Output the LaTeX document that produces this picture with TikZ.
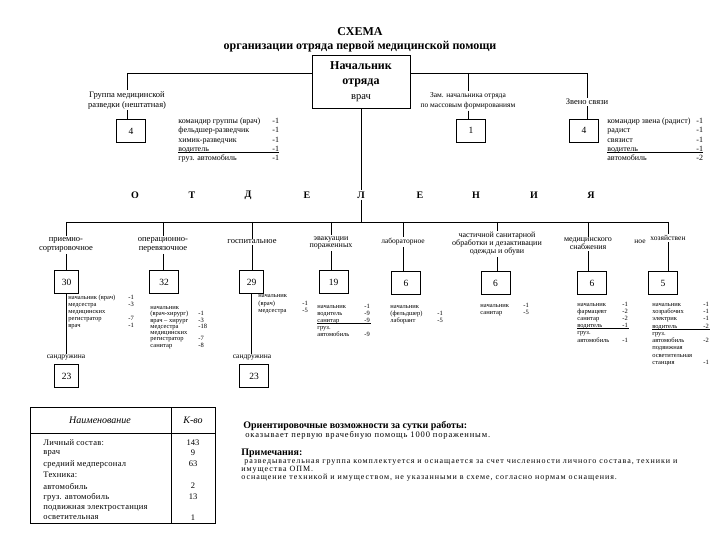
\documentclass[tikz,border=0pt]{standalone}
\usepackage{fontspec}
\setmainfont{Liberation Serif}
\newlength\lw
\newcommand\W[1]{\global\lw=#1\relax}
\newcommand\lrow[2]{\makebox[\lw][l]{#1}#2}
\newcommand\ulrow[2]{\rlap{\rule[-1.6pt]{\dimexpr\lw+7pt\relax}{1.1pt}}\lrow{#1}{#2}}
\newcommand\fs[2]{\fontsize{#1}{#2}\selectfont}
\newcommand\wide[1]{\addfontfeature{LetterSpace=#1}}
\begin{document}
\begin{tikzpicture}[x=1pt,y=-1pt,line width=0.8pt,
  bx/.style={draw, minimum width=29pt, minimum height=23pt, inner sep=0pt, font=\fs{9.5}{10}},
  nbx/.style={bx, minimum width=23.5pt},
  dl/.style={align=center, inner sep=1pt, font=\fs{8.5}{9}},
  tl/.style={align=center, inner sep=1pt, font=\fs{8.5}{10}},
  ls/.style={anchor=north west, align=left, inner sep=0pt, font=\fs{6.5}{7}},
  lsb/.style={anchor=north west, align=left, inner sep=0pt, font=\fs{8}{9.3}},
  lt/.style={font=\fs{10}{10}\bfseries, inner sep=1pt},
  tx/.style={anchor=west, inner sep=0pt, font=\fs{8.5}{9}\wide{3}},
  tv/.style={inner sep=0pt, font=\fs{8.5}{9}}]
\useasboundingbox (0,0) rectangle (720,540);
% title
\node[font=\fs{12}{12}\bfseries] (t1) at (360,32) {СХЕМА};
\node[font=\fs{12}{12}\bfseries] (t2) at (360,47) {организации отряда первой медицинской помощи};
% chief
\node[draw, minimum width=98pt, minimum height=53pt, inner sep=0pt, align=center, font=\fs{12}{15}\bfseries] (boss) at (361,81.5) {Начальник\\отряда\\\fs{10.5}{15}\normalfont врач};
% top bus
\coordinate (tl) at (127,73);
\coordinate (tr) at (587,73);
\node[tl] (glbl) at (127,100) {Группа медицинской\\разведки (нештатная)};
\node[bx] (gbox) at (131,131) {4};
\node[tl, font=\fs{7.5}{10}] (zlbl) at (468,101) {Зам. начальника отряда\\по массовым формированиям};
\node[bx] (zbox) at (471,130.5) {1};
\node[tl] (svlbl) at (587,102) {Звено связи};
\node[bx] (svbox) at (584,130.5) {4};
\draw (boss.west |- tl) -- (tl) -- (glbl.north);
\draw (glbl.south) -- (glbl.south |- gbox.north);
\draw (boss.east |- tr) -- (tr) -- (svlbl.north);
\draw (zlbl.north |- tr) -- (zlbl.north);
\draw (zlbl.south) -- (zlbl.south |- zbox.north);
\draw (svlbl.south) -- (svlbl.south |- svbox.north);
\node[lsb] (glist) at (178,117.5) {\W{94pt}\lrow{командир группы (врач)}{-1}\\\lrow{фельдшер-разведчик}{-1}\\\lrow{химик-разведчик}{-1}\\\ulrow{водитель}{-1}\\\lrow{груз. автомобиль}{-1}};
\node[lsb] (svlist) at (607,117.5) {\W{89pt}\lrow{командир звена (радист)}{-1}\\\lrow{радист}{-1}\\\lrow{связист}{-1}\\\ulrow{водитель}{-1}\\\lrow{автомобиль}{-2}};
% ОТДЕЛЕНИЯ
\node[lt] (lO) at (135,195) {О};
\node[lt] (lT) at (192,195) {Т};
\node[lt] (lD) at (248,195) {Д};
\node[lt] (lE1) at (307,195) {Е};
\node[lt] (lL) at (361,195) {Л};
\node[lt] (lE2) at (420,195) {Е};
\node[lt] (lN) at (476,195) {Н};
\node[lt] (lI) at (534,195) {И};
\node[lt] (lJa) at (591,195) {Я};
\coordinate (db1) at (66,222);
\coordinate (db8) at (668,222);
\draw (db1) -- (db8);
\draw (boss.south) -- (lL.north);
\draw (lL.south) -- (lL.south |- db1);
% departments
\node[dl] (d1) at (66,245) {приемно-\\сортировочное};
\node[dl] (d2) at (163,245) {операционно-\\перевязочное};
\node[dl] (d3) at (252,242) {госпитальное};
\node[dl, font=\fs{8}{7.5}] (d4) at (331,243) {эвакуации\\пораженных};
\node[dl, font=\fs{7.5}{8}] (d5) at (403,242) {лабораторное};
\node[dl, font=\fs{8}{8}] (d6) at (497,244) {частичной санитарной\\обработки и дезактивации\\одежды и обуви};
\node[dl, font=\fs{8}{8}] (d7) at (588,244) {медицинского\\снабжения};
\node[dl, font=\fs{7.5}{8}] (d8) at (668,238) {хозяйствен};
\node[dl, font=\fs{7.5}{8}] (d8b) at (640,242) {ное};
\node[nbx] (b1) at (66.5,282) {30};
\node[bx] (b2) at (164,282) {32};
\node[nbx] (b3) at (251.5,282) {29};
\node[bx] (b4) at (333.5,282) {19};
\node[bx] (b5) at (406,283) {6};
\node[bx] (b6) at (495.5,283) {6};
\node[bx] (b7) at (592,283) {6};
\node[bx] (b8) at (663,283) {5};
\foreach \i in {1,...,8}{
  \draw (d\i.north |- db1) -- (d\i.north);
  \draw (d\i.south) -- (d\i.south |- b\i.north);
}
% sandruzhiny
\node[dl, font=\fs{7.5}{8}] (s1) at (66,358) {сандружина};
\node[nbx] (c1) at (66.5,376) {23};
\node[dl, font=\fs{7.5}{8}] (s3) at (252,358) {сандружина};
\node[bx] (c3) at (254,376) {23};
\draw (b1.south) -- (b1.south |- s1.north);
\draw (b3.south) -- (b3.south |- s3.north);
% lists
\node[ls] (l1) at (68,295) {\W{60pt}\lrow{начальник (врач)}{-1}\\\lrow{медсестра}{-3}\\медицинских\\\lrow{регистратор}{-7}\\\lrow{врач}{-1}};
\node[ls, font=\fs{6.5}{6.3}] (l2) at (150,306) {\W{48pt}начальник\\\lrow{(врач-хирург)}{-1}\\\lrow{врач – хирург}{-3}\\\lrow{медсестра}{-18}\\медицинских\\\lrow{регистратор}{-7}\\\lrow{санитар}{-8}};
\node[ls, font=\fs{6.5}{7.5}] (l3) at (258,294.5) {\W{44pt}начальник\\\lrow{(врач)}{-1}\\\lrow{медсестра}{-5}};
\node[ls] (l4) at (317,303.5) {\W{47pt}\lrow{начальник}{-1}\\\lrow{водитель}{-9}\\\ulrow{санитар}{-9}\\груз.\\\lrow{автомобиль}{-9}};
\node[ls] (l5) at (390,305.5) {\W{47pt}начальник\\\lrow{(фельдшер)}{-1}\\\lrow{лаборант}{-5}};
\node[ls] (l6) at (480,302.5) {\W{43pt}\lrow{начальник}{-1}\\\lrow{санитар}{-5}};
\node[ls, font=\fs{6.5}{7.2}] (l7) at (577,301.5) {\W{45pt}\lrow{начальник}{-1}\\\lrow{фармацевт}{-2}\\\lrow{санитар}{-2}\\\ulrow{водитель}{-1}\\груз.\\\lrow{автомобиль}{-1}};
\node[ls, font=\fs{6.5}{7.3}] (l8) at (652,301.5) {\W{51pt}\lrow{начальник}{-1}\\\lrow{хозрабочих}{-1}\\\lrow{электрик}{-1}\\\ulrow{водитель}{-2}\\груз.\\\lrow{автомобиль}{-2}\\подвижная\\осветительная\\\lrow{станция}{-1}};
% table
\draw (30,407) rectangle (215,523);
\draw (171,407) -- (171,523);
\draw (30,433) -- (215,433);
\node[font=\fs{10}{10}\itshape] (h1) at (100,420) {Наименование};
\node[font=\fs{10}{10}\itshape] (h2) at (193,420) {К-во};
\node[tx] (r1) at (43,443) {Личный состав:};
\node[tx] (r2) at (43,453) {врач};
\node[tx] (r3) at (43,464) {средний медперсонал};
\node[tx] (r4) at (43,475) {Техника:};
\node[tx] (r5) at (43,486) {автомобиль};
\node[tx] (r6) at (43,497) {груз. автомобиль};
\node[tx] (r7) at (43,508) {подвижная электростанция};
\node[tx] (r8) at (43,518) {осветительная};
\node[tv] (v1) at (193,443) {143};
\node[tv] (v2) at (193,453) {9};
\node[tv] (v3) at (193,464) {63};
\node[tv] (v5) at (193,486) {2};
\node[tv] (v6) at (193,497) {13};
\node[tv] (v8) at (193,518) {1};
% notes
\node[anchor=west, inner sep=0pt, font=\fs{10}{10}\bfseries] (n1) at (243,426) {Ориентировочные возможности за сутки работы:};
\node[anchor=west, inner sep=0pt, font=\fs{8.5}{9}\wide{10}] (n2) at (245,435) {оказывает первую врачебную помощь 1000 пораженным.};
\node[anchor=west, inner sep=0pt, font=\fs{10}{10}\bfseries] (n3) at (241,453) {Примечания:};
\node[anchor=north west, inner sep=0pt, align=left, font=\fs{8}{6.8}\wide{12}] (n4) at (241,459.5) {\hspace*{3pt}разведывательная группа комплектуется и оснащается за счет численности личного состава, техники и\\имущества ОПМ.\\оснащение техникой и имуществом, не указанными в схеме, согласно нормам оснащения.};
\end{tikzpicture}
\end{document}
